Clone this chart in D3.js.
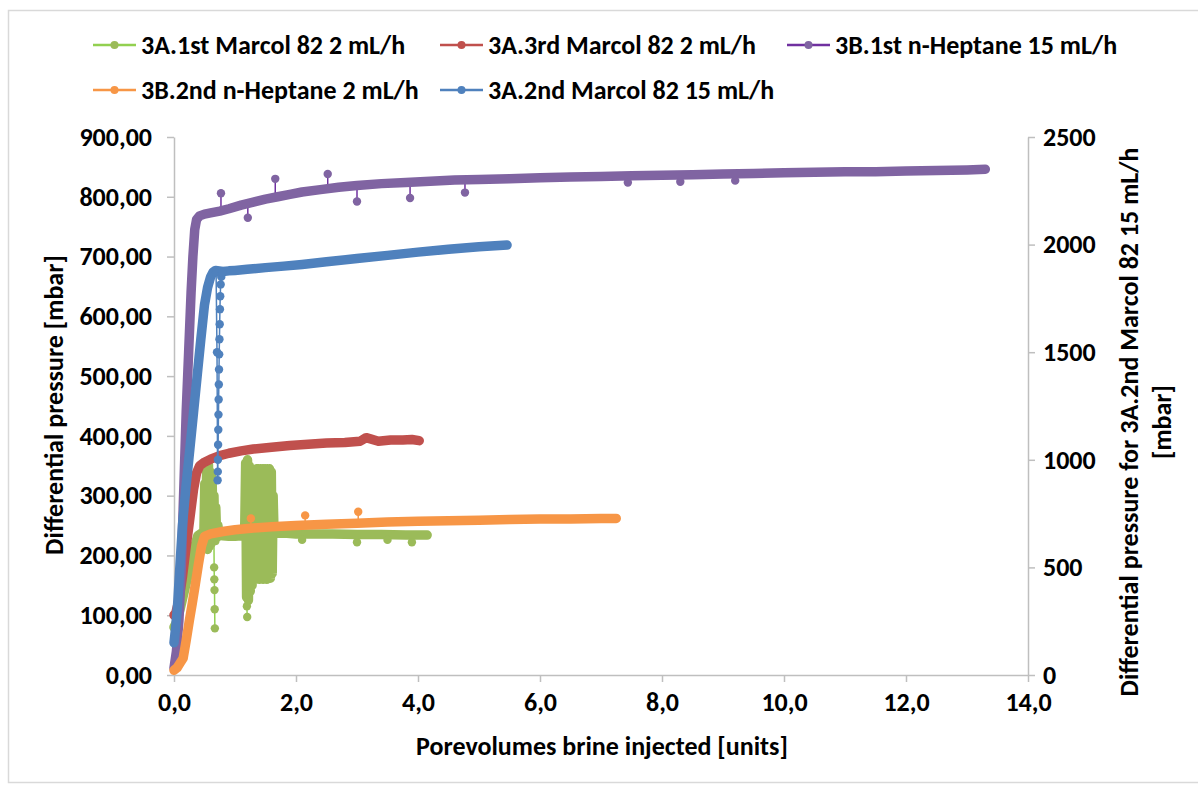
<!DOCTYPE html>
<html>
<head>
<meta charset="utf-8">
<script src="https://cdn.jsdelivr.net/npm/d3@7"></script>
<style>
  body { margin: 0; background: #fff; }
  svg text { font-family: Carlito, Calibri, Lato, "Open Sans", sans-serif; font-weight: bold; fill: #000; }
</style>
</head>
<body>
<svg id="chart" width="1198" height="785"></svg>
<script>
// ---- Series labels (legend order) ----
const seriesLabels = [
  "3A.1st Marcol 82 2 mL/h",
  "3A.3rd Marcol 82 2 mL/h",
  "3B.1st n-Heptane 15 mL/h",
  "3B.2nd n-Heptane 2 mL/h",
  "3A.2nd Marcol 82 15 mL/h"
];

// ---- Axis ticks ----
const xTicks = [0, 2, 4, 6, 8, 10, 12, 14];
const leftTicks = [0, 100, 200, 300, 400, 500, 600, 700, 800, 900];
const rightTicks = [0, 500, 1000, 1500, 2000, 2500];

// ---- 3A.1st Marcol 82 2 mL/h (left axis) ----
const marcol1X = [0.00, 0.04, 0.10, 0.18, 0.26, 0.34, 0.39, 0.45,
  0.49, 0.505, 0.52, 0.535, 0.55, 0.565, 0.58, 0.595, 0.61, 0.625, 0.64, 0.655, 0.67, 0.685, 0.70, 0.72, 0.74,
  0.80, 0.90, 1.00, 1.10,
  1.16, 1.175, 1.19, 1.205, 1.22, 1.235, 1.25, 1.265, 1.28, 1.295, 1.31, 1.325, 1.34, 1.355, 1.37, 1.385,
  1.40, 1.415, 1.43, 1.445, 1.46, 1.475, 1.49, 1.505, 1.52, 1.535, 1.55, 1.565, 1.58, 1.595, 1.61, 1.625,
  1.64, 1.70, 1.85, 2.00, 2.30, 2.60, 3.00, 3.40, 3.80, 4.15];
const marcol1Y = [80, 88, 110, 145, 180, 215, 233, 237,
  238, 320, 215, 345, 210, 352, 215, 340, 220, 330, 225, 300, 225, 280, 230, 250, 234,
  233, 232, 232, 233,
  250, 355, 130, 360, 125, 350, 140, 345, 150, 320, 165, 335, 160, 345, 165, 345,
  160, 343, 165, 345, 160, 342, 165, 345, 160, 343, 165, 345, 162, 340, 170, 300,
  238, 237, 237, 236, 236, 236, 235, 235, 234, 234];
const marcol1Sparse = [
  [[0.655, 230], [0.658, 180], [0.661, 160], [0.664, 142], [0.667, 110], [0.67, 78]],
  [[1.19, 135], [1.195, 115], [1.20, 97]]
];
const marcol1Spikes = [[2.1, 226], [3.0, 222], [3.5, 226], [3.9, 222]];

// ---- 3A.3rd Marcol 82 2 mL/h (left axis) ----
const marcol3X = [0.00, 0.03, 0.08, 0.14, 0.20, 0.26, 0.32, 0.37, 0.42, 0.50, 0.60, 0.75, 0.90, 1.10, 1.30,
  1.60, 1.90, 2.20, 2.50, 2.80, 3.05, 3.15, 3.22, 3.35, 3.55, 3.75, 3.90, 4.02];
const marcol3Y = [100, 104, 125, 165, 215, 262, 310, 338, 350, 356, 361, 367, 371, 375, 378,
  381, 384, 386, 388, 389, 391, 397, 395, 391, 393, 393, 394, 392];

// ---- 3B.1st n-Heptane 15 mL/h (left axis) ----
const heptane1X = [0.00, 0.04, 0.08, 0.12, 0.16, 0.20, 0.24, 0.28, 0.31, 0.34, 0.37, 0.42, 0.50, 0.60, 0.75,
  0.90, 1.10, 1.30, 1.50, 1.70, 1.90, 2.10, 2.40, 2.70, 3.00, 3.40, 3.80, 4.20, 4.60, 5.00, 5.50, 6.00,
  6.50, 7.00, 7.50, 8.00, 8.50, 9.00, 9.50, 10.00, 10.50, 11.00, 11.50, 12.00, 12.50, 13.00, 13.30];
const heptane1Y = [12, 40, 90, 180, 310, 440, 540, 640, 700, 745, 762, 768, 771, 773, 776,
  780, 786, 791, 796, 800, 804, 808, 812, 816, 819, 822, 824, 826, 828, 829, 830, 832,
  833, 834, 835, 836, 837, 838, 839, 840, 841, 842, 842, 843, 844, 845, 846];
const heptane1Spikes = [[0.77, 806], [1.66, 830], [2.52, 838], [1.21, 765], [3.0, 792], [3.87, 798],
  [4.77, 807], [7.44, 824], [8.3, 825], [9.2, 827]];

// ---- 3B.2nd n-Heptane 2 mL/h (left axis) ----
const heptane2X = [0.00, 0.05, 0.10, 0.15, 0.20, 0.25, 0.30, 0.35, 0.40, 0.45, 0.50, 0.60, 0.80, 1.00,
  1.30, 1.60, 2.00, 2.50, 3.00, 3.50, 4.00, 4.50, 5.00, 5.50, 6.00, 6.50, 7.00, 7.25];
const heptane2Y = [8, 12, 20, 28, 58, 90, 120, 152, 185, 215, 232, 236, 240, 243,
  246, 248, 250, 252, 254, 256, 257, 258, 259, 260, 261, 261, 262, 262];
const heptane2Spikes = [[1.26, 262], [2.15, 267], [3.02, 273]];

// ---- 3A.2nd Marcol 82 15 mL/h (right axis) ----
const marcol2X = [0.00, 0.03, 0.06, 0.10, 0.14, 0.20, 0.26, 0.32, 0.38, 0.44, 0.50, 0.55, 0.60, 0.64, 0.68,
  0.80, 0.90, 1.00, 1.20, 1.50, 1.80, 2.10, 2.50, 3.00, 3.50, 4.00, 4.50, 5.00, 5.46];
const marcol2Y = [150, 230, 330, 520, 700, 885, 1050, 1220, 1390, 1560, 1720, 1800, 1850, 1872, 1880,
  1875, 1878, 1880, 1885, 1893, 1900, 1908, 1920, 1935, 1950, 1965, 1978, 1990, 1998];
const marcol2Sparse = [
  [[0.69, 1870], [0.705, 1500], [0.715, 905], [0.718, 945], [0.72, 1000], [0.723, 1070], [0.726, 1140],
   [0.729, 1210], [0.732, 1280], [0.735, 1350], [0.738, 1420], [0.741, 1490], [0.745, 1560], [0.749, 1630],
   [0.753, 1700], [0.758, 1760], [0.765, 1815], [0.775, 1850], [0.79, 1870]]
];

// ---- Series styling ----
const series = [
  { label: seriesLabels[0], xs: marcol1X, ys: marcol1Y, sparse: marcol1Sparse, spikes: marcol1Spikes, axis: "left", line: "#92d050", marker: "#9bbb59" },
  { label: seriesLabels[1], xs: marcol3X, ys: marcol3Y, sparse: [], spikes: [], axis: "left", line: "#c0504d", marker: "#c0504d" },
  { label: seriesLabels[2], xs: heptane1X, ys: heptane1Y, sparse: [], spikes: heptane1Spikes, axis: "left", line: "#7030a0", marker: "#8064a2" },
  { label: seriesLabels[3], xs: heptane2X, ys: heptane2Y, sparse: [], spikes: heptane2Spikes, axis: "left", line: "#f79646", marker: "#f79646" },
  { label: seriesLabels[4], xs: marcol2X, ys: marcol2Y, sparse: marcol2Sparse, spikes: [], axis: "right", line: "#4f81bd", marker: "#4f81bd" }
];

const svg = d3.select("#chart");
const axisColor = "#bfbfbf";
const fontSize = 26;

// chart frame
svg.append("rect").attr("x", 8.5).attr("y", 10.5).attr("width", 1200).attr("height", 772)
  .attr("fill", "#fff").attr("stroke", "#d9d9d9").attr("stroke-width", 1.5);

// scales
const x = d3.scaleLinear().domain([0, 14]).range([174, 1028]);
const yL = d3.scaleLinear().domain([0, 900]).range([675, 137]);
const yR = d3.scaleLinear().domain([0, 2500]).range([675, 137]);

const locale = d3.formatLocale({ decimal: ",", thousands: ".", grouping: [3], currency: ["", ""] });
const fmtLeft = locale.format(".2f");
const fmtX = locale.format(".1f");
const fmtRight = d3.format("d");

function styleAxis(g) {
  g.attr("font-family", null).attr("font-size", null);
  g.select(".domain").attr("stroke", axisColor).attr("stroke-width", 1.5);
  g.selectAll(".tick line").attr("stroke", axisColor).attr("stroke-width", 1.5);
  g.selectAll(".tick text").attr("font-size", fontSize).attr("fill", "#000");
}

const gx = svg.append("g").attr("transform", "translate(0,675)")
  .call(d3.axisBottom(x).tickValues(xTicks).tickFormat(fmtX).tickSize(7).tickSizeOuter(0).tickPadding(11));
styleAxis(gx);

const gl = svg.append("g").attr("transform", "translate(174,0)")
  .call(d3.axisLeft(yL).tickValues(leftTicks).tickFormat(fmtLeft).tickSize(7).tickSizeOuter(0).tickPadding(15));
styleAxis(gl);

const gr = svg.append("g").attr("transform", "translate(1028,0)")
  .call(d3.axisRight(yR).tickValues(rightTicks).tickFormat(fmtRight).tickSize(7).tickSizeOuter(0).tickPadding(8));
styleAxis(gr);

// axis titles
svg.append("text").attr("x", 602).attr("y", 755).attr("text-anchor", "middle")
  .attr("font-size", fontSize).text("Porevolumes brine injected [units]");
svg.append("text").attr("transform", "translate(63,405) rotate(-90)").attr("text-anchor", "middle")
  .attr("font-size", fontSize).text("Differential pressure [mbar]");
svg.append("text").attr("transform", "translate(1138,422) rotate(-90)").attr("text-anchor", "middle")
  .attr("font-size", fontSize).text("Differential pressure for 3A.2nd Marcol 82 15 mL/h");
svg.append("text").attr("transform", "translate(1171,422) rotate(-90)").attr("text-anchor", "middle")
  .attr("font-size", fontSize).text("[mbar]");

// series
const plot = svg.append("g");
series.forEach(s => {
  const yS = s.axis === "right" ? yR : yL;
  const pts = d3.zip(s.xs, s.ys);
  const line = d3.line().x(d => x(d[0])).y(d => yS(d[1]));
  const g = plot.append("g");

  // thin spike lines from the trace to isolated readings
  const traceAt = xv => {
    const i = Math.max(1, Math.min(s.xs.length - 1, d3.bisectLeft(s.xs, xv)));
    const t = (xv - s.xs[i - 1]) / (s.xs[i] - s.xs[i - 1]);
    return s.ys[i - 1] + t * (s.ys[i] - s.ys[i - 1]);
  };
  s.spikes.forEach(p => {
    g.append("line").attr("x1", x(p[0])).attr("x2", x(p[0]))
      .attr("y1", yS(traceAt(p[0]))).attr("y2", yS(p[1]))
      .attr("stroke", s.line).attr("stroke-width", 1.5);
  });
  // sparse segments: thin line plus markers
  s.sparse.forEach(chain => {
    g.append("path").attr("d", line(chain)).attr("fill", "none")
      .attr("stroke", s.line).attr("stroke-width", 1.5);
  });

  // dense run of markers, rendered as a thick round-joined stroke
  g.append("path").attr("d", line(pts)).attr("fill", "none")
    .attr("stroke", s.marker).attr("stroke-width", 9.5)
    .attr("stroke-linejoin", "round").attr("stroke-linecap", "round");

  const markerPts = s.spikes.concat(...s.sparse);
  g.selectAll("circle").data(markerPts).join("circle")
    .attr("cx", d => x(d[0])).attr("cy", d => yS(d[1])).attr("r", 4.2)
    .attr("fill", s.marker);
});

// legend
const legendCols = [93, 440, 787];
const legendRows = [45, 90];
series.forEach((s, i) => {
  const lx = legendCols[i % 3];
  const ly = legendRows[Math.floor(i / 3)];
  const g = svg.append("g");
  g.append("line").attr("x1", lx).attr("x2", lx + 43).attr("y1", ly).attr("y2", ly)
    .attr("stroke", s.line).attr("stroke-width", 2.5);
  g.append("circle").attr("cx", lx + 21.5).attr("cy", ly).attr("r", 4).attr("fill", s.marker);
  g.append("text").attr("x", lx + 48).attr("y", ly + 8.5).attr("font-size", fontSize).text(s.label);
});
</script>
</body>
</html>
